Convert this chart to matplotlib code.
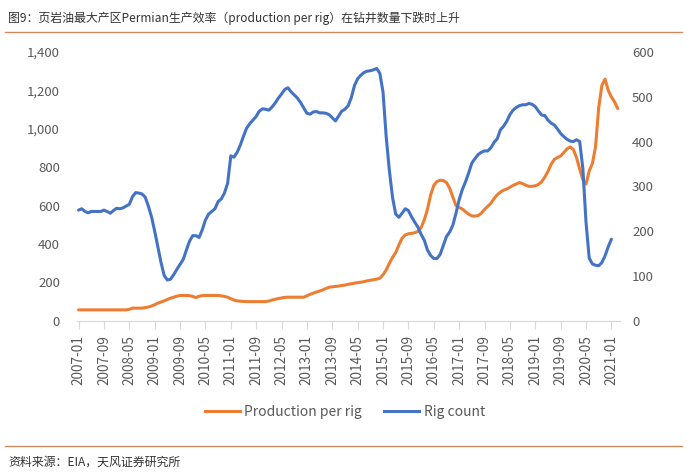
import numpy as np
import pandas as pd
import matplotlib
matplotlib.use("Agg")
import matplotlib.pyplot as plt
from matplotlib.lines import Line2D
from matplotlib.ticker import FuncFormatter, FixedLocator

plt.rcParams["font.family"] = ["Noto Sans CJK SC", "DejaVu Sans"]

# monthly categories, 2007-01 .. 2021-03
months = pd.date_range("2007-01-01", "2021-03-01", freq="MS").strftime("%Y-%m").tolist()

# Production per rig (left axis)
production_per_rig = [
    57, 57, 57, 57, 57, 57, 57, 57, 57, 57, 57, 57, 57, 57, 57, 57, 60, 66, 66, 66,
    66, 69, 72, 77, 84, 92, 98, 104, 111, 118, 123, 128, 132, 132, 132, 131, 127, 121, 128, 131,
    132, 132, 132, 132, 132, 130, 127, 123, 115, 108, 104, 102, 101, 100, 100, 100, 100, 100, 100, 100,
    103, 108, 112, 116, 119, 122, 123, 123, 123, 123, 123, 123, 130, 138, 144, 150, 155, 161, 168, 175,
    177, 179, 181, 184, 186, 190, 193, 196, 199, 201, 204, 208, 211, 214, 217, 222, 240, 265, 300, 330,
    355, 395, 430, 447, 453, 455, 459, 465, 485, 525, 580, 655, 705, 725, 732, 730, 720, 690, 645, 600,
    590, 582, 568, 555, 546, 545, 548, 560, 580, 596, 612, 636, 656, 670, 680, 686, 695, 705, 712, 720,
    714, 706, 700, 700, 703, 710, 724, 748, 778, 815, 840, 850, 858, 876, 895, 905, 892, 850, 790, 735,
    712, 780, 818, 905, 1110, 1225, 1258, 1200, 1165, 1140, 1105,
]

# Rig count (right axis), 2007-01 .. 2021-01
rig_count = [
    247, 250, 244, 241, 244, 244, 244, 244, 247, 244, 240, 246, 251, 250, 252, 256, 260, 277, 286, 285,
    283, 276, 256, 232, 200, 165, 130, 101, 91, 93, 103, 115, 126, 137, 158, 178, 190, 190, 186, 203,
    225, 238, 244, 250, 266, 272, 285, 307, 368, 365, 376, 392, 412, 430, 440, 448, 456, 468, 473, 472,
    470, 477, 486, 497, 506, 516, 520, 511, 504, 497, 487, 475, 463, 461, 466, 467, 464, 464, 463, 460,
    453, 446, 457, 468, 472, 480, 498, 525, 540, 548, 554, 557, 558, 560, 563, 552, 510, 410, 335, 275,
    238, 231, 240, 250, 246, 232, 220, 209, 193, 180, 158, 146, 139, 139, 148, 168, 188, 198, 213, 240,
    270, 293, 310, 330, 352, 362, 371, 376, 379, 379, 386, 398, 406, 426, 434, 445, 460, 470, 476, 480,
    482, 482, 485, 483, 478, 468, 459, 458, 448, 441, 437, 428, 418, 411, 405, 401, 400, 404, 400, 340,
    220, 140, 127, 124, 123, 130, 145, 165, 182,
]

title = "图9：页岩油最大产区Permian生产效率（production per rig）在钻井数量下跌时上升"
source = "资料来源：EIA，天风证券研究所"

orange = "#ED7D31"
blue = "#4472C4"
grey = "#595959"
rule = "#CC8A5E"

fig = plt.figure(figsize=(6.97, 4.76), dpi=100)
ax = fig.add_axes([0.110, 0.326, 0.779, 0.565])
ax2 = ax.twinx()

x = np.arange(len(months))
ax.plot(x, production_per_rig, color=orange, lw=2.2, solid_capstyle="round")
ax2.plot(x[:len(rig_count)], rig_count, color=blue, lw=2.2, solid_capstyle="round")

ax.set_xlim(-0.6, len(months) - 0.4)
ax.set_ylim(0, 1400)
ax2.set_ylim(0, 600)
ax.set_yticks(range(0, 1401, 200))
ax2.set_yticks(range(0, 601, 100))
ax.yaxis.set_major_formatter(FuncFormatter(lambda v, p: f"{int(v):,}"))

tick_pos = list(range(0, len(months), 8))
ax.xaxis.set_major_locator(FixedLocator(tick_pos))
ax.set_xticklabels([months[i] for i in tick_pos], rotation=90)

for a in (ax, ax2):
    for s in ("top", "left", "right"):
        a.spines[s].set_visible(False)
    a.spines["bottom"].set_color("#D9D9D9")
    a.tick_params(axis="y", length=0, colors=grey, labelsize=9.5)
ax.tick_params(axis="y", pad=12)
ax2.tick_params(axis="y", pad=9)
ax.tick_params(axis="x", length=6, colors=grey, labelsize=9.8, pad=4)
ax.tick_params(axis="x", color="#D9D9D9")

handles = [Line2D([], [], color=orange, lw=2.2), Line2D([], [], color=blue, lw=2.2)]
fig.legend(handles, ["Production per rig", "Rig count"], loc="center",
           bbox_to_anchor=(345 / 697, 1 - 412 / 476), ncol=2, frameon=False,
           fontsize=10, handlelength=2.5, columnspacing=1.6, handletextpad=0.35,
           labelcolor=grey)

fig.text(0.012, 1 - 18 / 476, title, fontsize=8.6, color="#333333", va="center")
fig.add_artist(Line2D([0.007, 682 / 697], [1 - 32 / 476] * 2, color=rule, lw=1,
                      transform=fig.transFigure))
fig.add_artist(Line2D([0.007, 682 / 697], [1 - 446 / 476] * 2, color=rule, lw=1,
                      transform=fig.transFigure))
fig.text(0.012, 1 - 462 / 476, source, fontsize=8.6, color="#333333", va="center")

fig.savefig("out.png", dpi=100)
